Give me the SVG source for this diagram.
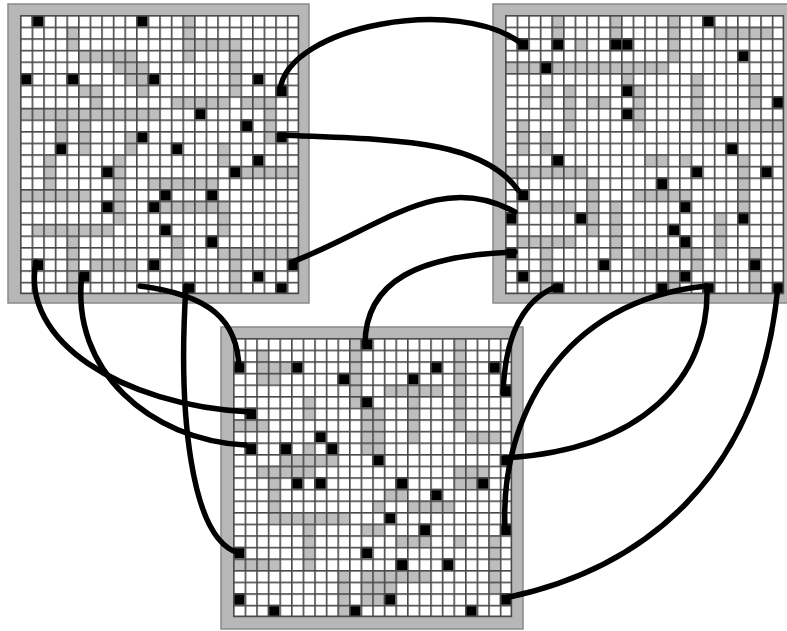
<svg xmlns="http://www.w3.org/2000/svg" width="787" height="631" viewBox="0 0 787 631">
<defs>
<pattern id="grid" width="1" height="1" patternUnits="userSpaceOnUse"><rect x="0" y="0" width="1" height="0.14" fill="#4a4a4a"/><rect x="0" y="0" width="0.14" height="1" fill="#4a4a4a"/></pattern>
<style>
.frame{fill:#b7b7b7;stroke:#8a8a8a;stroke-width:1.5}
.bg{fill:#fff}
.g{fill:#bebebe}
.k rect{fill:#000}
.gl{fill:url(#grid)}
.edge{fill:none;stroke:#4a4a4a;stroke-width:0.14}
.conn path{fill:none;stroke:#000;stroke-width:5.5;stroke-linecap:round}
</style>
</defs>
<rect width="787" height="631" fill="#fff"/>
<g id="panel1">
<rect class="frame" x="8" y="4" width="301" height="299"/>
<g transform="translate(20,15) scale(11.6)">
<rect class="bg" width="24" height="24"/>
<path class="g" d="M4 1h1v2h-1z M5 3h5v1h-5z M8 4h2v1h-2z M9 5h1v1h-1z M5 6h2v1h-2z M6 7h1v1h-1z M0 8h12v1h-12z M3 9h1v2h-1z M5 9h1v3h-1z M9 10h1v2h-1z M14 0h1v4h-1z M15 2h4v1h-4z M18 3h1v4h-1z M13 7h5v1h-5z M19 7h3v1h-3z M21 8h1v3h-1z M17 11h1v2h-1z M19 13h5v1h-5z M11 14h6v1h-6z M12 16h6v1h-6z M17 17h1v2h-1z M13 19h1v2h-1z M17 20h7v1h-7z M18 21h1v3h-1z M0 15h6v1h-6z M8 12h1v6h-1z M1 18h7v1h-7z M4 19h1v5h-1z M6 21h4v1h-4z M10 4h1v3h-1z M2 12h1v3h-1z"/>
<g class="k">
<rect x="1" y="0" width="1" height="1"/><rect x="10" y="0" width="1" height="1"/><rect x="0" y="5" width="1" height="1"/><rect x="4" y="5" width="1" height="1"/><rect x="11" y="5" width="1" height="1"/><rect x="20" y="5" width="1" height="1"/><rect x="22" y="6" width="1" height="1"/><rect x="15" y="8" width="1" height="1"/><rect x="19" y="9" width="1" height="1"/><rect x="10" y="10" width="1" height="1"/><rect x="22" y="10" width="1" height="1"/><rect x="3" y="11" width="1" height="1"/><rect x="13" y="11" width="1" height="1"/><rect x="20" y="12" width="1" height="1"/><rect x="18" y="13" width="1" height="1"/><rect x="7" y="13" width="1" height="1"/><rect x="12" y="15" width="1" height="1"/><rect x="16" y="15" width="1" height="1"/><rect x="11" y="16" width="1" height="1"/><rect x="7" y="16" width="1" height="1"/><rect x="12" y="18" width="1" height="1"/><rect x="16" y="19" width="1" height="1"/><rect x="1" y="21" width="1" height="1"/><rect x="11" y="21" width="1" height="1"/><rect x="23" y="21" width="1" height="1"/><rect x="5" y="22" width="1" height="1"/><rect x="20" y="22" width="1" height="1"/><rect x="14" y="23" width="1" height="1"/><rect x="22" y="23" width="1" height="1"/>
</g>
<rect class="gl" width="24" height="24"/>
<path class="edge" d="M24 0V24H0"/>
</g>
</g>
<g id="panel2">
<rect class="frame" x="493" y="4" width="300" height="299"/>
<g transform="translate(505,15) scale(11.6)">
<rect class="bg" width="24" height="24"/>
<path class="g" d="M4 0h1v2h-1z M9 0h1v2h-1z M6 2h1v1h-1z M0 4h14v1h-14z M10 5h1v1h-1z M3 6h1v2h-1z M5 6h1v3h-1z M7 7h2v1h-2z M1 9h1v3h-1z M3 10h1v2h-1z M5 9h1v1h-1z M14 0h1v4h-1z M18 1h5v1h-5z M16 5h1v5h-1z M17 9h7v1h-7z M21 5h1v3h-1z M12 12h2v1h-2z M15 12h1v1h-1z M20 12h1v5h-1z M11 15h5v1h-5z M18 17h1v4h-1z M11 20h6v1h-6z M21 20h1v1h-1z M21 22h1v2h-1z M14 22h1v2h-1z M16 21h1v1h-1z M0 13h7v1h-7z M7 14h1v5h-1z M1 19h5v1h-5z M3 20h1v4h-1z M9 16h1v5h-1z M2 16h4v1h-4z M11 6h1v4h-1z"/>
<g class="k">
<rect x="1" y="2" width="1" height="1"/><rect x="4" y="2" width="1" height="1"/><rect x="9" y="2" width="1" height="1"/><rect x="10" y="2" width="1" height="1"/><rect x="3" y="4" width="1" height="1"/><rect x="10" y="6" width="1" height="1"/><rect x="10" y="8" width="1" height="1"/><rect x="4" y="12" width="1" height="1"/><rect x="17" y="0" width="1" height="1"/><rect x="20" y="3" width="1" height="1"/><rect x="23" y="7" width="1" height="1"/><rect x="19" y="11" width="1" height="1"/><rect x="16" y="13" width="1" height="1"/><rect x="22" y="13" width="1" height="1"/><rect x="13" y="14" width="1" height="1"/><rect x="15" y="16" width="1" height="1"/><rect x="20" y="17" width="1" height="1"/><rect x="14" y="18" width="1" height="1"/><rect x="15" y="19" width="1" height="1"/><rect x="21" y="21" width="1" height="1"/><rect x="15" y="22" width="1" height="1"/><rect x="13" y="23" width="1" height="1"/><rect x="17" y="23" width="1" height="1"/><rect x="23" y="23" width="1" height="1"/><rect x="1" y="22" width="1" height="1"/><rect x="1" y="15" width="1" height="1"/><rect x="0" y="17" width="1" height="1"/><rect x="0" y="20" width="1" height="1"/><rect x="4" y="23" width="1" height="1"/><rect x="8" y="21" width="1" height="1"/><rect x="6" y="17" width="1" height="1"/>
</g>
<rect class="gl" width="24" height="24"/>
<path class="edge" d="M24 0V24H0"/>
</g>
</g>
<g id="panel3">
<rect class="frame" x="221" y="327" width="302" height="302"/>
<g transform="translate(233,338) scale(11.6)">
<rect class="bg" width="24" height="24"/>
<path class="g" d="M10 0h1v6h-1z M2 1h1v3h-1z M3 2h2v1h-2z M3 3h1v1h-1z M6 5h1v2h-1z M11 6h2v4h-2z M0 7h3v1h-3z M6 9h1v1h-1z M6 11h1v1h-1z M4 10h5v1h-5z M19 0h1v8h-1z M13 4h5v1h-5z M15 5h1v4h-1z M20 8h3v1h-3z M19 11h3v1h-3z M19 12h2v1h-2z M13 13h2v1h-2z M15 14h4v1h-4z M12 14h1v1h-1z M11 16h2v1h-2z M14 17h3v1h-3z M19 17h1v1h-1z M22 17h1v5h-1z M11 20h6v1h-6z M11 21h3v1h-3z M11 22h2v1h-2z M2 11h4v1h-4z M3 12h1v4h-1z M4 15h6v1h-6z M6 16h1v4h-1z M0 19h4v1h-4z M9 20h1v4h-1z"/>
<g class="k">
<rect x="0" y="2" width="1" height="1"/><rect x="5" y="2" width="1" height="1"/><rect x="9" y="3" width="1" height="1"/><rect x="11" y="0" width="1" height="1"/><rect x="11" y="5" width="1" height="1"/><rect x="1" y="6" width="1" height="1"/><rect x="1" y="9" width="1" height="1"/><rect x="4" y="9" width="1" height="1"/><rect x="7" y="8" width="1" height="1"/><rect x="8" y="9" width="1" height="1"/><rect x="12" y="10" width="1" height="1"/><rect x="5" y="12" width="1" height="1"/><rect x="7" y="12" width="1" height="1"/><rect x="14" y="12" width="1" height="1"/><rect x="21" y="12" width="1" height="1"/><rect x="17" y="13" width="1" height="1"/><rect x="13" y="15" width="1" height="1"/><rect x="16" y="16" width="1" height="1"/><rect x="23" y="16" width="1" height="1"/><rect x="11" y="18" width="1" height="1"/><rect x="14" y="19" width="1" height="1"/><rect x="18" y="19" width="1" height="1"/><rect x="13" y="22" width="1" height="1"/><rect x="23" y="22" width="1" height="1"/><rect x="20" y="23" width="1" height="1"/><rect x="0" y="22" width="1" height="1"/><rect x="3" y="23" width="1" height="1"/><rect x="0" y="18" width="1" height="1"/><rect x="10" y="23" width="1" height="1"/><rect x="17" y="2" width="1" height="1"/><rect x="22" y="2" width="1" height="1"/><rect x="23" y="4" width="1" height="1"/><rect x="15" y="3" width="1" height="1"/><rect x="23" y="10" width="1" height="1"/>
</g>
<rect class="gl" width="24" height="24"/>
<path class="edge" d="M24 0V24H0"/>
</g>
</g>
<g id="connectors" class="conn">
<path d="M280,90 C288,25 460,-5 522,44"/>
<path d="M280,135 C390,140 480,138 518,190"/>
<path d="M292,262 C380,228 440,170 515,212"/>
<path d="M365,345 C365,280 420,255 515,252"/>
<path d="M558,286 C520,300 505,340 503,393"/>
<path d="M707,286 C710,380 640,450 505,458"/>
<path d="M505,528 C500,420 560,300 707,286"/>
<path d="M778,286 C760,480 640,570 505,598"/>
<path d="M36,262 C20,340 120,405 250,412"/>
<path d="M82,275 C70,370 150,440 245,445"/>
<path d="M140,286 C210,295 238,320 239,369"/>
<path d="M186,286 C178,410 190,540 239,553"/>
</g>
</svg>
